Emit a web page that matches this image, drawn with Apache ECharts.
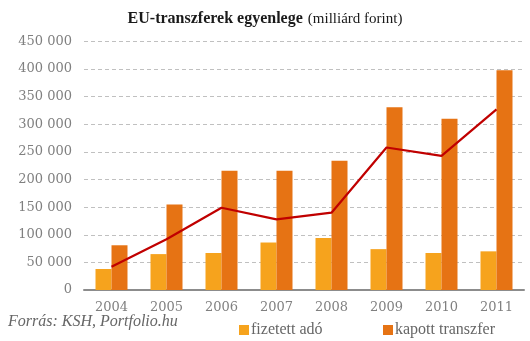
<!DOCTYPE html>
<html><head><meta charset="utf-8">
<script src="https://cdn.jsdelivr.net/npm/echarts@6/dist/echarts.min.js"></script>
<style>html,body{margin:0;padding:0;background:#fff}#c{width:530px;height:341px}</style>
</head><body><div id="c"></div>
<script>
const categories = ['2004','2005','2006','2007','2008','2009','2010','2011'];
const fizetettAdo = [38000, 65000, 67000, 86000, 94000, 74000, 67000, 70000];
const kapottTranszfer = [81000, 155000, 216000, 216000, 234000, 331000, 310000, 398000];
const egyenleg = [42000, 92000, 149000, 128000, 140000, 258000, 243000, 327000];
const yTicks = [0, 450000, 50000];

const chart = echarts.init(document.getElementById('c'), null, {renderer: 'canvas'});
const serif = 'DejaVu Serif';
chart.setOption({
  animation: false,
  backgroundColor: '#fff',
  title: {
    text: '{b|EU-transzferek egyenlege} {n|(milliárd forint)}',
    left: 'center', top: 5,
    textStyle: { fontWeight: 'normal', rich: {
      b: {fontFamily: 'Liberation Serif', fontWeight: 'bold', fontSize: 16, color: '#1a1a1a'},
      n: {fontFamily: 'Liberation Serif', fontWeight: 'normal', fontSize: 15, color: '#1a1a1a'}
    }}
  },
  grid: {left: 84, right: 6, top: 41.5, bottom: 51, containLabel: false},
  legend: [
    {data: ['fizetett adó'], left: 234, top: 317, icon: 'rect', itemWidth: 10, itemHeight: 10, itemGap: 2,
     textStyle: {fontFamily: 'Liberation Serif', fontSize: 16, color: '#666', padding: [0,0,0,-3]}},
    {data: ['kapott transzfer'], left: 378, top: 317, icon: 'rect', itemWidth: 10, itemHeight: 10,
     textStyle: {fontFamily: 'Liberation Serif', fontSize: 16, color: '#666', padding: [0,0,0,-3]}}
  ],
  graphic: [{
    type: 'text', left: 8, top: 314,
    style: {text: 'Forrás: KSH, Portfolio.hu', font: 'italic 16px "Liberation Serif"', fill: '#666'}
  }],
  xAxis: {
    type: 'category', data: categories,
    axisLine: {lineStyle: {color: '#8c8c8c', width: 2}},
    axisTick: {show: false},
    axisLabel: {fontFamily: serif, fontSize: 13, color: '#808080', margin: 11}
  },
  yAxis: {
    type: 'value', min: yTicks[0], max: yTicks[1], interval: yTicks[2],
    axisLine: {show: false}, axisTick: {show: false},
    splitLine: {lineStyle: {color: '#c0c0c0', type: [4, 3], width: 1}},
    axisLabel: {fontFamily: serif, fontSize: 13, color: '#808080', margin: 12,
      formatter: v => String(v).replace(/\B(?=(\d{3})+(?!\d))/g, ' ')}
  },
  series: [
    {name: 'fizetett adó', type: 'bar', data: fizetettAdo, barWidth: 16, barGap: '0%',
     itemStyle: {color: '#F6A31D'}},
    {name: 'kapott transzfer', type: 'bar', data: kapottTranszfer, barWidth: 16,
     itemStyle: {color: '#E67314'}},
    {name: 'egyenleg', type: 'line', data: egyenleg, symbol: 'none',
     lineStyle: {color: '#C00000', width: 2.2}, z: 5}
  ]
});
</script></body></html>
